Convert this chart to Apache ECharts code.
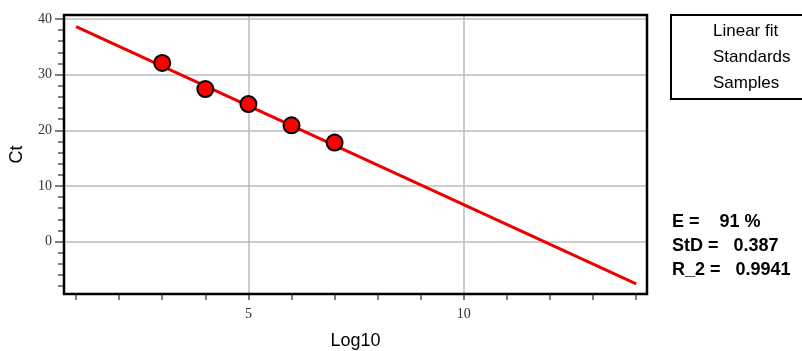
<!DOCTYPE html>
<html lang="en" style="height: 100%">
<head>
  <meta charset="utf-8">
</head>
<body style="height: 100%; margin: 0; background: #fff">
<div id="container" style="width: 802px; height: 351px"></div>

<script type="text/javascript" src="https://cdn.jsdelivr.net/npm/echarts@6/dist/echarts.min.js"></script>
<script type="text/javascript">
  // standards (Log10, Ct)
  var stdX = [3, 4, 5, 6, 7];
  var stdY = [32.1, 27.4, 24.7, 20.9, 17.8];
  // linear fit end points
  var fitX = [1, 14];
  var fitY = [38.6, -7.6];
  // axis ticks
  var xTicks = [1, 2, 3, 4, 5, 6, 7, 8, 9, 10, 11, 12, 13, 14];
  var xLabels = [5, 10];
  var yMajor = [0, 10, 20, 30, 40];
  var yMinor = [-8, -6, -4, -2, 2, 4, 6, 8, 12, 14, 16, 18, 22, 24, 26, 28, 32, 34, 36, 38];
  var legendNames = ['Linear fit', 'Standards', 'Samples'];
  var statNames = ['E =', 'StD =', 'R_2 ='];
  var statValues = ['   91 %', '  0.387', '  0.9941'];

  var dom = document.getElementById('container');
  var myChart = echarts.init(dom, null, { renderer: 'canvas' });

  var gridL = 64, gridT = 15, gridR = 647, gridB = 294;

  var gridLines = [];
  xLabels.forEach(function (v) { gridLines.push({ xAxis: v }); });
  yMajor.forEach(function (v) { gridLines.push({ yAxis: v }); });

  var graphics = [{
    type: 'rect',
    shape: { x: gridL, y: gridT, width: gridR - gridL, height: gridB - gridT },
    style: { fill: null, stroke: '#000', lineWidth: 2.5 },
    z: 10
  }];
  statNames.forEach(function (n, i) {
    graphics.push({
      type: 'text',
      x: 672, y: 222 + i * 24,
      style: {
        text: n + ' ' + statValues[i],
        font: 'bold 18px "Liberation Sans", Arial, sans-serif',
        fill: '#000',
        verticalAlign: 'middle'
      }
    });
  });

  var tickLabelStyle = {
    fontFamily: '"Liberation Serif", "Times New Roman", serif',
    fontSize: 14,
    color: '#333'
  };

  var option = {
    animation: false,
    grid: {
      left: gridL, top: gridT, right: 802 - gridR, bottom: 351 - gridB,
      outerBoundsMode: 'none'
    },
    legend: {
      data: legendNames,
      orient: 'vertical',
      left: 671,
      top: 15,
      padding: [6, 30, 6, 12],
      itemWidth: 25,
      itemHeight: 14,
      itemGap: 6,
      borderColor: '#000',
      borderWidth: 2,
      icon: 'rect',
      itemStyle: { color: 'rgba(0,0,0,0)', borderWidth: 0 },
      lineStyle: { opacity: 0 },
      textStyle: {
        fontFamily: '"Liberation Sans", Arial, sans-serif',
        fontSize: 17,
        lineHeight: 20,
        color: '#000'
      }
    },
    xAxis: {
      type: 'value',
      position: 'bottom',
      min: 0.72,
      max: 14.25,
      name: 'Log10',
      nameLocation: 'middle',
      nameGap: 38,
      nameTextStyle: { fontFamily: '"Liberation Sans", Arial, sans-serif', fontSize: 18, color: '#000' },
      axisLine: { show: false, onZero: false },
      splitLine: { show: false },
      axisTick: { show: true, inside: false, length: 6, customValues: xTicks, lineStyle: { color: '#555', width: 1.5 } },
      axisLabel: { customValues: xLabels, margin: 13, ...tickLabelStyle }
    },
    yAxis: [{
      type: 'value',
      min: -9.4,
      max: 40.7,
      name: 'Ct',
      nameLocation: 'middle',
      nameGap: 38,
      nameTextStyle: { fontFamily: '"Liberation Sans", Arial, sans-serif', fontSize: 18, color: '#000' },
      axisLine: { show: false, onZero: false },
      splitLine: { show: false },
      axisTick: { show: true, inside: false, length: 9, customValues: yMajor, lineStyle: { color: '#555', width: 1.5 } },
      axisLabel: { customValues: yMajor, margin: 12, ...tickLabelStyle }
    }, {
      type: 'value',
      position: 'left',
      min: -9.4,
      max: 40.7,
      axisLine: { show: false, onZero: false },
      splitLine: { show: false },
      axisTick: { show: true, inside: false, length: 6, customValues: yMinor, lineStyle: { color: '#555', width: 1.5 } },
      axisLabel: { show: false }
    }],
    graphic: graphics,
    series: [
      {
        name: 'Linear fit',
        type: 'line',
        data: fitX.map(function (x, i) { return [x, fitY[i]]; }),
        symbol: 'none',
        lineStyle: { color: '#ee0000', width: 3 },
        itemStyle: { color: '#ee0000' },
        z: 3,
        markLine: {
          silent: true,
          symbol: 'none',
          label: { show: false },
          lineStyle: { color: '#bdbdbd', width: 1.5, type: 'solid' },
          data: gridLines,
          z: 1
        }
      },
      {
        name: 'Standards',
        type: 'scatter',
        data: stdX.map(function (x, i) { return [x, stdY[i]]; }),
        symbolSize: 16,
        itemStyle: { color: '#ff0000', borderColor: '#000', borderWidth: 2, opacity: 1 },
        z: 5
      },
      {
        name: 'Samples',
        type: 'scatter',
        data: []
      }
    ]
  };

  myChart.setOption(option);
  window.addEventListener('resize', myChart.resize);
</script>
</body>
</html>
